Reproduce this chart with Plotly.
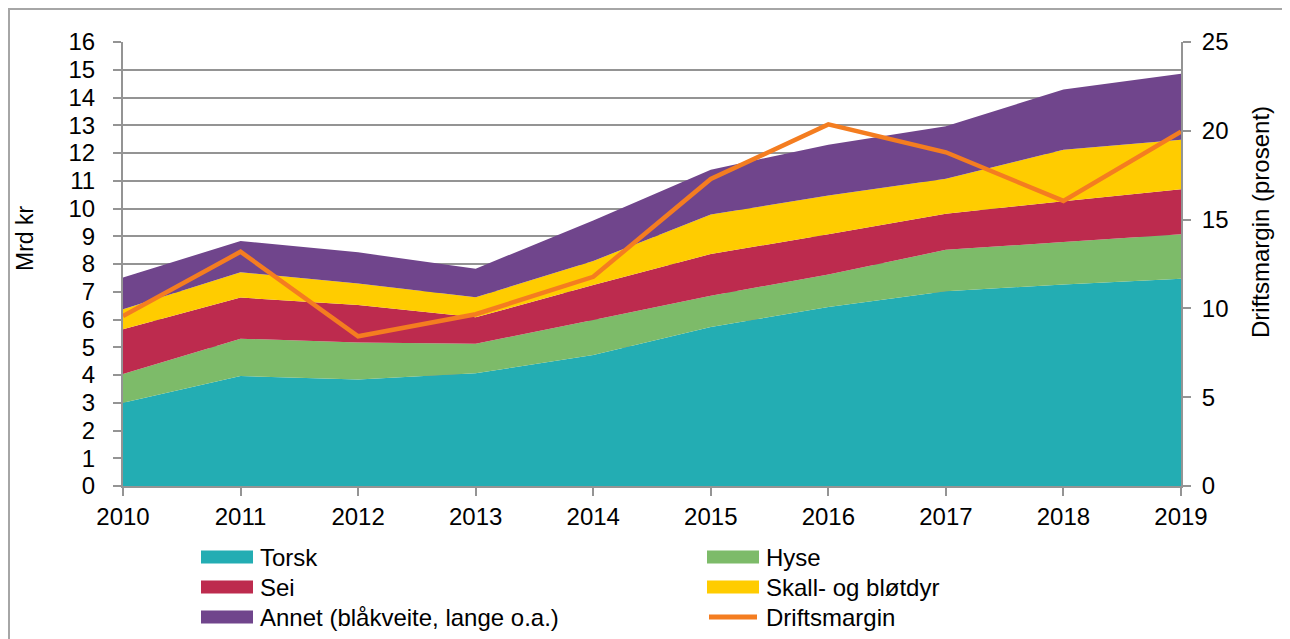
import plotly.graph_objects as go

years = [2010, 2011, 2012, 2013, 2014, 2015, 2016, 2017, 2018, 2019]
torsk = [3.00, 3.96, 3.84, 4.06, 4.72, 5.73, 6.45, 7.02, 7.26, 7.47]
hyse = [1.04, 1.35, 1.33, 1.07, 1.26, 1.13, 1.17, 1.49, 1.53, 1.60]
sei = [1.61, 1.48, 1.35, 0.95, 1.26, 1.50, 1.45, 1.30, 1.47, 1.62]
skall = [0.72, 0.91, 0.78, 0.72, 0.87, 1.42, 1.40, 1.26, 1.86, 1.79]
annet = [1.14, 1.13, 1.12, 1.03, 1.46, 1.62, 1.83, 1.89, 2.17, 2.38]
driftsmargin = [9.57, 13.19, 8.43, 9.67, 11.78, 17.29, 20.36, 18.79, 16.05, 19.95]

left_ticks = list(range(0, 17))
right_ticks = [0, 5, 10, 15, 20, 25]

FONT = "Liberation Sans, Arial, sans-serif"
FS = 24
GRID = "#949494"

# page body has an 8px margin: figure origin sits at (8, 8) in the window
OFF = 8
W, H = 1282, 631
L = 123 - OFF
T = 42 - OFF
R = W - (1181 - OFF)
B = H - (486 - OFF)
pw, ph = W - L - R, H - T - B


def px_x(p):
    return (p - OFF - L) / pw


def px_y(p):
    return (H - B - (p - OFF)) / ph


series = [
    ("Torsk", torsk, "#23adb3"),
    ("Hyse", hyse, "#7dbb69"),
    ("Sei", sei, "#bd2b4e"),
    ("Skall- og bløtdyr", skall, "#ffcc00"),
    ("Annet (blåkveite, lange o.a.)", annet, "#70458c"),
]
line_name = "Driftsmargin"
line_color = "#f47d20"

fig = go.Figure()
for name, vals, col in series:
    fig.add_trace(go.Scatter(
        x=years, y=vals, name=name, mode="lines", stackgroup="one",
        line=dict(width=0, color=col), fillcolor=col, showlegend=False,
    ))

fig.add_trace(go.Scatter(
    x=years, y=driftsmargin, name=line_name, mode="lines",
    line=dict(color=line_color, width=4.5), yaxis="y2", showlegend=False,
))

# manual legend (two columns, three rows)
legend_items = [
    (series[0][0], series[0][2], "box"),
    (series[1][0], series[1][2], "box"),
    (series[2][0], series[2][2], "box"),
    (series[3][0], series[3][2], "box"),
    (series[4][0], series[4][2], "box"),
    (line_name, line_color, "line"),
]
col_x = [201, 707]
row_y = [557, 587, 617]
sw_w, sw_h = 52, 13
shapes = [dict(
    type="rect", xref="paper", yref="paper",
    x0=px_x(9), x1=px_x(1288), y0=px_y(700), y1=px_y(9),
    line=dict(color="#a6a6a6", width=2), fillcolor="rgba(0,0,0,0)", layer="below",
)]
annotations = []
for i, (name, col, kind) in enumerate(legend_items):
    cx = col_x[i % 2]
    cy = row_y[i // 2]
    if kind == "box":
        shapes.append(dict(
            type="rect", xref="paper", yref="paper",
            x0=px_x(cx), x1=px_x(cx + sw_w), y0=px_y(cy + sw_h / 2), y1=px_y(cy - sw_h / 2),
            line=dict(width=0), fillcolor=col, layer="above",
        ))
    else:
        shapes.append(dict(
            type="line", xref="paper", yref="paper",
            x0=px_x(cx + 2), x1=px_x(cx + sw_w - 2), y0=px_y(cy), y1=px_y(cy),
            line=dict(color=col, width=5), layer="above",
        ))
    annotations.append(dict(
        text=name, xref="paper", yref="paper", x=px_x(cx + sw_w + 5), y=px_y(cy),
        xanchor="left", yanchor="middle", showarrow=False,
        font=dict(family=FONT, size=FS, color="black"),
    ))

# axis titles
annotations.append(dict(
    text="Mrd kr", xref="paper", yref="paper", x=px_x(25), y=px_y(238),
    xanchor="center", yanchor="middle", textangle=-90, showarrow=False,
    font=dict(family=FONT, size=FS - 1, color="black"),
))
annotations.append(dict(
    text="Driftsmargin (prosent)", xref="paper", yref="paper", x=px_x(1261), y=px_y(222),
    xanchor="center", yanchor="middle", textangle=-90, showarrow=False,
    font=dict(family=FONT, size=FS, color="black"),
))

fig.update_layout(
    width=W, height=H,
    margin=dict(l=L, r=R, t=T, b=B, autoexpand=False),
    paper_bgcolor="white", plot_bgcolor="white",
    font=dict(family=FONT, size=FS, color="black"),
    showlegend=False,
    xaxis=dict(
        range=[2010, 2019], tickvals=years, ticktext=[str(y) for y in years],
        showgrid=False, zeroline=False, showline=True, linecolor=GRID, linewidth=2,
        ticks="outside", ticklen=8, tickcolor=GRID, tickwidth=2,
        tickfont=dict(size=FS), ticklabelstandoff=0,
    ),
    yaxis=dict(
        range=[0, 16], tickvals=left_ticks, showgrid=True, gridcolor=GRID, gridwidth=2,
        zeroline=False, showline=True, linecolor=GRID, linewidth=2,
        ticks="outside", ticklen=8, tickcolor=GRID, tickwidth=2,
        tickfont=dict(size=FS), ticklabelstandoff=13,
    ),
    yaxis2=dict(
        range=[0, 25], tickvals=right_ticks, overlaying="y", side="right",
        showgrid=False, zeroline=False, showline=True, linecolor=GRID, linewidth=2,
        ticks="outside", ticklen=8, tickcolor=GRID, tickwidth=2,
        tickfont=dict(size=FS), ticklabelstandoff=6,
    ),
    shapes=shapes,
    annotations=annotations,
)

fig.write_html("out.html")
